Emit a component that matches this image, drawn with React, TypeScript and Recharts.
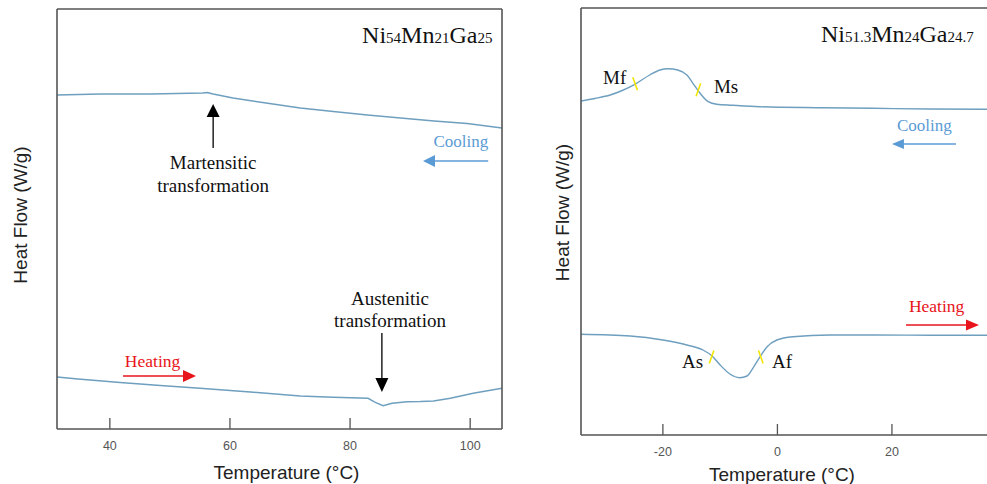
import React from 'react';
import { LineChart, Line, XAxis, YAxis, ReferenceLine, ReferenceDot } from 'recharts';

// Ni54Mn21Ga25 (left panel), heat flow in arbitrary units
const coolTempA = [31.2, 38.4, 46.7, 55.5, 56.2, 57.2, 60.5, 66, 71.7, 77.2, 82.9, 88.4, 94, 99.5, 105.3];
const coolFlowA = [334, 335, 335, 336, 336.5, 335, 331, 326, 321, 317.5, 314, 311, 308, 305.5, 301];
const heatTempA = [31.2, 34.7, 41.7, 48.4, 55, 63.4, 71.7, 77.2, 83, 84.2, 85.5, 87, 89.5, 91.7, 93.9, 96.7, 100.5, 105.3];
const heatFlowA = [52, 50, 46.5, 43.5, 40.7, 37, 33, 31.7, 30.7, 26.7, 23.3, 25.7, 27.3, 27.5, 28, 30.7, 35.7, 40.7];
const ticksA = [40, 60, 80, 100];

// Ni51.3Mn24Ga24.7 (right panel)
const coolTempB = [-34.3, -31.9, -29.2, -27.1, -24.9, -22.3, -20.5, -19.1, -17.4, -15.8, -14.75, -13.5, -12.1, -10.6, -7.8, -3.1, 7.4, 16.7, 26.6, 36.6];
const coolFlowB = [334, 336.5, 340, 344.5, 350.7, 360, 365, 366.3, 365, 360, 351.7, 341.7, 333.3, 330.7, 329.7, 328.3, 327.3, 326.7, 326, 325.7];
const heatTempB = [-34.3, -25.7, -20.0, -15.8, -13.0, -11.4, -10.0, -8.3, -6.6, -5.3, -4.3, -3.1, -1.8, -0.1, 2.7, 9.2, 16.7, 26.6, 36.6];
const heatFlowB = [100.7, 99, 95, 90, 85, 79, 70, 61, 57.3, 59, 66.7, 77.7, 88.3, 95, 98.3, 100, 100, 99.8, 99.7];
const ticksB = [-20, 0, 20];

// transformation temperatures marked in yellow
const markNames = ['Mf', 'Ms', 'As', 'Af'];
const markTemp = [-24.85, -13.8, -11.5, -2.9];
const markFlow = [351.3, 345.3, 78, 78];

const toRows = (t: number[], v: number[]) => t.map((x, i) => ({ t: x, v: v[i] }));

const LINE = '#6e9fbf';
const AXIS = '#555';
const SANS = '"Liberation Sans", Arial, sans-serif';
const SERIF = '"Liberation Serif", "Times New Roman", serif';
const BLUE = '#5b9bd5';
const RED = '#e8141b';

const InnerTick = (props: any) => {
  const { x, y, payload } = props;
  return (
    <g>
      <line x1={x} y1={y} x2={x} y2={y - 11} stroke={AXIS} strokeWidth={1.3} />
      <text x={x} y={y + 21} textAnchor="middle" fontSize={12.5} fill={AXIS} fontFamily={SANS}>
        {payload.value}
      </text>
    </g>
  );
};

const arrowShape = (color: string, head: number, width: number) => (p: any) => {
  const { x1, y1, x2, y2 } = p;
  const len = Math.hypot(x2 - x1, y2 - y1) || 1;
  const ux = (x2 - x1) / len;
  const uy = (y2 - y1) / len;
  const bx = x2 - ux * head;
  const by = y2 - uy * head;
  const px = (-uy * width) / 2;
  const py = (ux * width) / 2;
  return (
    <g>
      <line x1={x1} y1={y1} x2={bx} y2={by} stroke={color} strokeWidth={1.3} />
      <polygon points={`${x2},${y2} ${bx + px},${by + py} ${bx - px},${by - py}`} fill={color} />
    </g>
  );
};

const arrow = (key: string, from: [number, number], to: [number, number], color: string, head: number, width: number) => (
  <ReferenceLine
    key={key}
    segment={[{ x: from[0], y: from[1] }, { x: to[0], y: to[1] }]}
    ifOverflow="visible"
    shape={arrowShape(color, head, width)}
  />
);

const note = (key: string, x: number, y: number, text: React.ReactNode, color = '#111', anchor = 'start', size = 19) => (
  <ReferenceDot
    key={key}
    x={x}
    y={y}
    r={0}
    ifOverflow="visible"
    shape={(p: any) => (
      <text x={p.cx} y={p.cy} fill={color} fontSize={size} fontFamily={SERIF} textAnchor={anchor}>
        {text}
      </text>
    )}
  />
);

const tick = (key: string, x: number, y: number) => (
  <ReferenceDot
    key={key}
    x={x}
    y={y}
    r={0}
    ifOverflow="visible"
    shape={(p: any) => {
      const lean = key === 'Mf' || key === 'Af' ? 1 : -1;
      return (
        <line
          x1={p.cx - 2.3 * lean}
          y1={p.cy - 6.5}
          x2={p.cx + 2.3 * lean}
          y2={p.cy + 6.5}
          stroke="#f2e500"
          strokeWidth={1.6}
        />
      );
    }}
  />
);

const yTitle = (dx: number, dy: number) => ({ viewBox }: any) => (
  <text
    transform={`translate(${viewBox.x + viewBox.width + dx}, ${viewBox.y + viewBox.height / 2 + dy}) rotate(-90)`}
    textAnchor="middle"
    fontSize={19}
    fill="#222"
    fontFamily={SANS}
  >
    Heat Flow (W/g)
  </text>
);

const xTitle = (dx: number, dy: number) => ({ viewBox }: any) => (
  <text
    x={viewBox.x + viewBox.width / 2 + dx}
    y={viewBox.y + dy}
    textAnchor="middle"
    fontSize={19}
    fill="#222"
    fontFamily={SANS}
  >
    Temperature (°C)
  </text>
);

const Formula = ({ parts }: { parts: string[] }) => (
  <>
    {parts.map((s, i) => (
      <tspan key={i} fontSize={i % 2 ? 15 : 24}>
        {s}
      </tspan>
    ))}
  </>
);

const frame = { stroke: AXIS, strokeWidth: 1.6 };

function LeftPanel() {
  const domX: [number, number] = [31.2, 105.3];
  const domY: [number, number] = [0, 420];
  return (
    <div style={{ position: 'absolute', left: 0, top: 0 }}>
      <LineChart width={520} height={484} margin={{ top: 8, right: 17, left: 56, bottom: 54 }}>
        <XAxis
          dataKey="t"
          type="number"
          domain={domX}
          allowDataOverflow
          ticks={ticksA}
          height={1}
          tickSize={0}
          tickMargin={0}
          tick={<InnerTick />}
          tickLine={false}
          axisLine={frame}
          label={xTitle(7, 50)}
        />
        <XAxis xAxisId="top" orientation="top" dataKey="t" type="number" domain={domX} allowDataOverflow height={1} tick={false} tickLine={false} axisLine={frame} />
        <YAxis type="number" domain={domY} allowDataOverflow width={1} tick={false} tickLine={false} axisLine={frame} label={yTitle(-30, -4)} />
        <YAxis yAxisId="right" orientation="right" type="number" domain={domY} width={1} tick={false} tickLine={false} axisLine={frame} />
        <Line data={toRows(coolTempA, coolFlowA)} dataKey="v" type="linear" stroke={LINE} strokeWidth={1.4} dot={false} isAnimationActive={false} />
        <Line data={toRows(heatTempA, heatFlowA)} dataKey="v" type="linear" stroke={LINE} strokeWidth={1.4} dot={false} isAnimationActive={false} />
        {note('titleA', 82.0, 386, <Formula parts={['Ni', '54', 'Mn', '21', 'Ga', '25']} />)}
        {note('mart1', 57.2, 260, 'Martensitic', '#111', 'middle')}
        {note('mart2', 57.2, 237, 'transformation', '#111', 'middle')}
        {arrow('martArrow', [57.2, 281], [57.2, 325], '#000', 13, 13)}
        {note('coolA', 103.0, 282, 'Cooling', BLUE, 'end', 17)}
        {arrow('coolArrowA', [103.0, 268], [92.15, 268], BLUE, 12, 12)}
        {note('heatA', 42.5, 62, 'Heating', RED, 'start', 17.5)}
        {arrow('heatArrowA', [42.2, 53], [54.35, 53], RED, 13, 12)}
        {note('aus1', 86.65, 124, 'Austenitic', '#111', 'middle')}
        {note('aus2', 86.65, 102, 'transformation', '#111', 'middle')}
        {arrow('ausArrow', [85.3, 96], [85.3, 37], '#000', 14, 13)}
      </LineChart>
    </div>
  );
}

function RightPanel() {
  const domX: [number, number] = [-34.3, 36.6];
  const domY: [number, number] = [0, 427];
  return (
    <div style={{ position: 'absolute', left: 540, top: 0 }}>
      <LineChart width={447} height={484} margin={{ top: 7, right: 0, left: 40, bottom: 48 }}>
        <XAxis
          dataKey="t"
          type="number"
          domain={domX}
          allowDataOverflow
          ticks={ticksB}
          height={1}
          tickSize={0}
          tickMargin={0}
          tick={<InnerTick />}
          tickLine={false}
          axisLine={frame}
          label={xTitle(-2, 46)}
        />
        <XAxis xAxisId="top" orientation="top" dataKey="t" type="number" domain={domX} allowDataOverflow height={1} tick={false} tickLine={false} axisLine={frame} />
        <YAxis type="number" domain={domY} allowDataOverflow width={1} tick={false} tickLine={false} axisLine={frame} label={yTitle(-12.5, -9)} />
        <Line data={toRows(coolTempB, coolFlowB)} dataKey="v" type="monotone" stroke={LINE} strokeWidth={1.4} dot={false} isAnimationActive={false} />
        <Line data={toRows(heatTempB, heatFlowB)} dataKey="v" type="monotone" stroke={LINE} strokeWidth={1.4} dot={false} isAnimationActive={false} />
        {note('titleB', 7.6, 393, <Formula parts={['Ni', '51.3', 'Mn', '24', 'Ga', '24.7']} />)}
        {markNames.map((m, i) => tick(m, markTemp[i], markFlow[i]))}
        {note('Mf', -30.46, 351, 'Mf')}
        {note('Ms', -11.08, 342, 'Ms')}
        {note('As', -16.66, 67, 'As')}
        {note('Af', -0.95, 67, 'Af')}
        {note('coolB', 20.88, 304, 'Cooling', BLUE, 'start', 17)}
        {arrow('coolArrowB', [31.18, 291], [20.0, 291], BLUE, 12, 10)}
        {note('heatB', 22.97, 123, 'Heating', RED, 'start', 17.5)}
        {arrow('heatArrowB', [22.45, 110], [35.2, 110], RED, 13, 11)}
      </LineChart>
    </div>
  );
}

export default function App() {
  return (
    <div style={{ position: 'absolute', left: 0, top: 0, width: 987, height: 484, background: '#fff', overflow: 'hidden' }}>
      <LeftPanel />
      <RightPanel />
    </div>
  );
}
